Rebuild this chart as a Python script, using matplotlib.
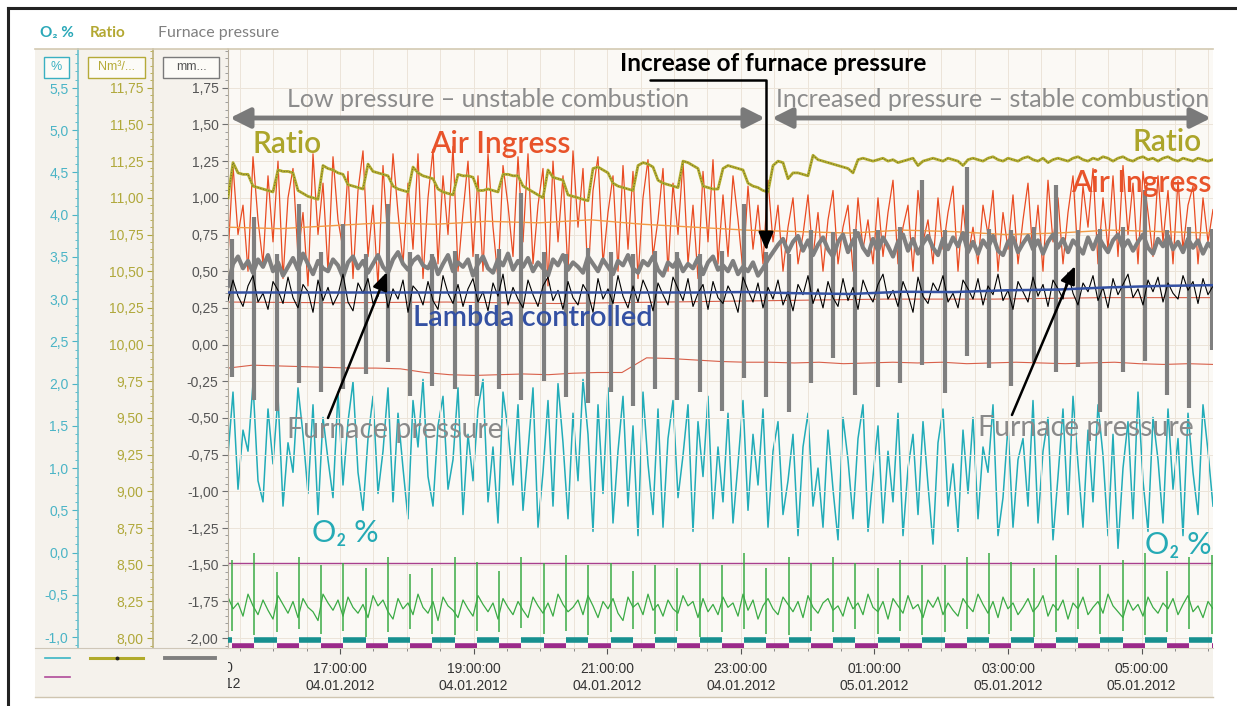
import numpy as np
import pandas as pd
import matplotlib
matplotlib.use("Agg")
import matplotlib.pyplot as plt
import matplotlib.dates as mdates
from matplotlib.ticker import FuncFormatter, MultipleLocator, FixedLocator
from matplotlib.lines import Line2D
from matplotlib.patches import Rectangle, ArrowStyle
from matplotlib.transforms import Bbox, TransformedBbox, blended_transform_factory

plt.rcParams['font.family'] = ['Liberation Sans', 'DejaVu Sans']
ANN_FONT = ['Lato', 'DejaVu Sans']

# visible time window
t_start = pd.Timestamp("2012-01-04 15:19:23")
t_end = pd.Timestamp("2012-01-05 06:04:08")

# valve switch times (every 20 min)
day1 = ["15:23", "15:43", "16:03", "16:23", "16:43", "17:03", "17:23", "17:43", "18:03",
        "18:23", "18:43", "19:03", "19:23", "19:43", "20:03", "20:23", "20:43", "21:03",
        "21:23", "21:43", "22:03", "22:23", "22:43", "23:03", "23:23", "23:43"]
day2 = ["00:03", "00:23", "00:43", "01:03", "01:23", "01:43", "02:03", "02:23", "02:43",
        "03:03", "03:23", "03:43", "04:03", "04:23", "04:43", "05:03", "05:23", "05:43", "06:03"]
switch_times = pd.to_datetime(["2012-01-04 " + s for s in day1] + ["2012-01-05 " + s for s in day2])

# O2 % (teal axis)
o2_pct = [
    1.15, 1.90, 0.75, 1.45, 1.20, 2.00, 0.85, 0.60, 1.70, 1.05,
    1.85, 0.55, 1.30, 0.95, 1.95, 1.40, 0.70, 1.75, 0.45, 1.60,
    1.10, 0.65, 1.90, 0.80, 1.55, 2.02, 0.95, 0.50, 1.35, 1.85,
    0.70, 1.20, 1.95, 0.60, 1.65, 1.00, 0.40, 1.80, 1.25, 2.05,
    0.90, 0.55, 1.50, 1.85, 0.75, 1.10, 1.95, 0.45, 1.40, 0.85,
    1.70, 2.05, 0.60, 1.25, 0.35, 1.90, 1.45, 0.80, 1.75, 0.50,
    1.20, 1.95, 0.30, 0.95, 1.80, 0.55, 2.00, 1.30, 0.40, 1.65,
    0.85, 2.05, 1.40, 0.25, 1.75, 0.70, 1.95, 0.35, 1.20, 1.85,
    0.55, 1.50, 0.20, 1.90, 1.05, 0.45, 1.70, 0.30, 1.35, 1.80,
    0.65, 1.15, 1.75, 0.25, 1.55, 0.90, 1.85, 0.40, 1.25, 0.60,
    1.65, 0.35, 1.05, 1.80, 0.50, 1.40, 0.80, 1.70, 0.30, 1.20,
    1.55, 0.45, 0.85, 1.40, 0.20, 1.25, 1.65, 0.55, 1.00, 0.30,
    1.45, 0.75, 0.15, 1.60, 1.10, 0.40, 1.35, 1.75, 0.25, 0.90,
    1.50, 0.35, 1.20, 0.60, 1.65, 0.20, 1.00, 1.40, 0.45, 1.55,
    0.80, 0.10, 1.30, 1.70, 0.55, 1.05, 0.25, 1.45, 0.70, 1.60,
    0.40, 1.25, 0.95, 1.75, 0.20, 0.65, 1.50, 0.30, 1.10, 1.35,
    0.55, 1.80, 0.35, 1.20, 1.60, 0.15, 0.90, 1.70, 0.45, 1.85,
    1.05, 0.30, 1.45, 0.60, 1.75, 1.15, 0.20, 1.40, 0.05, 1.00,
    1.55, 0.40, 1.90, 0.85, 0.25, 1.60, 1.10, 0.35, 1.70, 0.75,
    1.35, 0.20, 1.65, 0.95, 0.45, 1.75, 1.20, 0.55]

# ratio (olive axis, Nm3/...)
ratio = [
    11.00, 11.24, 11.17, 11.16, 11.16, 11.08, 11.07, 11.06, 11.05, 11.04,
    11.19, 11.18, 11.18, 11.17, 11.05, 11.03, 11.01, 11.00, 10.99, 11.22,
    11.20, 11.19, 11.17, 11.16, 11.09, 11.08, 11.07, 11.06, 11.23, 11.18,
    11.17, 11.16, 11.15, 11.08, 11.06, 11.05, 11.04, 11.21, 11.17, 11.15,
    11.14, 11.13, 11.06, 11.04, 11.03, 11.02, 11.16, 11.15, 11.15, 11.14,
    11.05, 11.05, 11.06, 11.05, 11.04, 11.16, 11.16, 11.15, 11.15, 11.08,
    11.06, 11.04, 11.02, 11.00, 11.19, 11.14, 11.13, 11.12, 11.02, 11.01,
    11.00, 10.99, 10.98, 11.20, 11.21, 11.19, 11.17, 11.10, 11.08, 11.07,
    11.06, 11.05, 11.22, 11.24, 11.23, 11.21, 11.12, 11.10, 11.09, 11.08,
    11.07, 11.25, 11.24, 11.22, 11.20, 11.08, 11.07, 11.06, 11.06, 11.20,
    11.22, 11.21, 11.20, 11.19, 11.10, 11.08, 11.07, 11.05, 11.04, 11.22,
    11.25, 11.24, 11.13, 11.17, 11.17, 11.16, 11.15, 11.29, 11.26, 11.25,
    11.24, 11.23, 11.22, 11.21, 11.20, 11.17, 11.26, 11.27, 11.26, 11.25,
    11.26, 11.27, 11.25, 11.26, 11.24, 11.25, 11.26, 11.27, 11.22, 11.25,
    11.26, 11.27, 11.26, 11.25, 11.27, 11.26, 11.25, 11.22, 11.26, 11.27,
    11.26, 11.25, 11.27, 11.28, 11.26, 11.25, 11.27, 11.26, 11.25, 11.27,
    11.28, 11.26, 11.25, 11.27, 11.24, 11.26, 11.27, 11.26, 11.25, 11.27,
    11.28, 11.26, 11.25, 11.27, 11.26, 11.28, 11.27, 11.25, 11.27, 11.28,
    11.26, 11.25, 11.27, 11.28, 11.26, 11.27, 11.25, 11.27, 11.28, 11.26,
    11.25, 11.27, 11.26, 11.25, 11.27, 11.26, 11.25, 11.26]

# furnace pressure, mm (grey axis) - level between valve switches
furnace_pressure = [
    0.40, 0.55, 0.60, 0.52, 0.57, 0.49, 0.58, 0.53, 0.61, 0.50,
    0.56, 0.47, 0.53, 0.59, 0.51, 0.62, 0.55, 0.48, 0.57, 0.52,
    0.50, 0.58, 0.54, 0.46, 0.56, 0.60, 0.52, 0.57, 0.49, 0.55,
    0.61, 0.53, 0.49, 0.58, 0.63, 0.55, 0.51, 0.57, 0.60, 0.54,
    0.52, 0.59, 0.48, 0.55, 0.61, 0.50, 0.56, 0.53, 0.58, 0.47,
    0.55, 0.60, 0.52, 0.49, 0.58, 0.54, 0.62, 0.51, 0.57, 0.53,
    0.59, 0.50, 0.56, 0.52, 0.47, 0.58, 0.54, 0.61, 0.51, 0.56,
    0.53, 0.49, 0.60, 0.55, 0.50, 0.58, 0.53, 0.48, 0.57, 0.54,
    0.61, 0.52, 0.49, 0.57, 0.54, 0.60, 0.51, 0.47, 0.56, 0.53,
    0.58, 0.50, 0.55, 0.52, 0.59, 0.48, 0.56, 0.60, 0.51, 0.54,
    0.50, 0.57, 0.48, 0.53, 0.50, 0.56, 0.47, 0.52, 0.58, 0.63,
    0.68, 0.72, 0.63, 0.70, 0.74, 0.64, 0.71, 0.61, 0.68, 0.73,
    0.65, 0.60, 0.70, 0.75, 0.63, 0.71, 0.76, 0.66, 0.61, 0.72,
    0.64, 0.73, 0.67, 0.60, 0.70, 0.75, 0.64, 0.72, 0.62, 0.69,
    0.74, 0.66, 0.61, 0.72, 0.65, 0.73, 0.67, 0.76, 0.63, 0.70,
    0.62, 0.71, 0.66, 0.74, 0.64, 0.61, 0.70, 0.73, 0.63, 0.69,
    0.74, 0.65, 0.71, 0.62, 0.70, 0.75, 0.66, 0.72, 0.63, 0.71,
    0.67, 0.62, 0.73, 0.65, 0.74, 0.68, 0.63, 0.71, 0.75, 0.66,
    0.71, 0.64, 0.70, 0.75, 0.66, 0.62, 0.72, 0.67, 0.74, 0.65,
    0.70, 0.63, 0.72, 0.66, 0.71, 0.62, 0.69, 0.65]

# furnace pressure swing at each valve switch (low / high)
pressure_switch_low = [
    -0.22, -0.38, -0.45, -0.26, -0.32, -0.30, -0.20, -0.12, -0.35, -0.28,
    -0.30, -0.35, -0.30, -0.38, -0.25, -0.36, -0.40, -0.32, -0.42, -0.30,
    -0.38, -0.32, -0.45, -0.23, -0.36, -0.46, -0.26, -0.09, -0.34, -0.29,
    -0.26, -0.14, -0.33, -0.08, -0.16, -0.28, -0.12, -0.19, -0.15, -0.46,
    -0.19, -0.11, -0.34, -0.43, -0.04]
pressure_switch_high = [
    0.72, 0.87, 0.62, 0.96, 0.63, 0.82, 0.62, 0.96, 0.63, 0.62,
    0.64, 0.62, 0.65, 1.03, 0.63, 0.62, 0.66, 0.63, 0.62, 0.64,
    0.63, 0.62, 0.64, 0.96, 0.63, 0.62, 0.78, 0.77, 0.79, 0.78,
    0.80, 1.12, 0.78, 1.21, 0.79, 0.78, 0.80, 1.09, 0.78, 0.79,
    0.80, 1.05, 0.78, 0.80, 0.79]

# air ingress (red)
air_ingress = [
    0.60, 1.22, 0.75, 0.95, 0.50, 1.28, 0.85, 0.55, 1.15, 0.70,
    1.25, 0.45, 1.00, 1.20, 0.60, 0.90, 0.40, 1.30, 0.75, 1.10,
    0.50, 1.28, 0.85, 0.65, 1.18, 0.45, 1.05, 1.32, 0.60, 0.95,
    0.40, 1.22, 0.70, 1.30, 0.90, 0.55, 1.10, 0.65, 1.30, 0.45,
    1.00, 1.33, 0.55, 1.15, 0.75, 1.35, 0.50, 0.90, 1.25, 0.60,
    1.15, 0.50, 1.30, 0.80, 0.45, 1.22, 0.95, 0.60, 1.28, 0.70,
    1.30, 0.55, 0.95, 1.20, 0.40, 1.25, 0.70, 1.15, 0.50, 1.32,
    0.80, 1.20, 0.45, 1.05, 1.28, 0.55, 0.90, 1.15, 0.50, 1.22,
    0.65, 1.18, 0.45, 1.00, 1.26, 0.60, 0.85, 1.20, 0.50, 1.10,
    0.75, 1.25, 0.55, 0.95, 0.45, 1.18, 0.70, 1.26, 0.55, 1.02,
    0.60, 1.15, 0.85, 0.50, 1.08, 0.65, 0.95, 0.55, 1.12, 0.70,
    0.95, 0.50, 0.80, 1.00, 0.55, 0.75, 1.02, 0.60, 0.90, 0.50,
    0.85, 1.05, 0.55, 0.80, 0.95, 0.50, 1.00, 0.65, 0.85, 0.55,
    1.00, 0.60, 0.90, 1.12, 0.55, 0.80, 0.95, 0.50, 1.05, 0.70,
    0.85, 0.55, 1.00, 0.65, 0.90, 1.08, 0.50, 0.95, 0.60, 0.80,
    0.55, 0.95, 0.75, 1.05, 0.50, 0.90, 0.65, 1.02, 0.55, 0.85,
    1.10, 0.60, 0.95, 0.50, 1.12, 0.70, 1.00, 0.55, 0.90, 1.15,
    0.60, 1.08, 0.80, 1.20, 0.55, 1.00, 0.65, 1.15, 0.60, 1.22,
    0.75, 1.10, 0.55, 1.18, 0.90, 0.60, 1.15, 0.70, 1.05, 0.55,
    1.12, 0.65, 0.95, 1.08, 0.55, 1.00, 0.70, 0.92]

# air ingress, averaged (light orange)
air_ingress_avg = [0.80, 0.79, 0.81, 0.83, 0.82, 0.84, 0.83, 0.85, 0.82, 0.80,
                   0.78, 0.77, 0.76, 0.78, 0.77, 0.75, 0.76, 0.78, 0.77, 0.76]

# lambda raw signal (black)
lambda_raw = [
    0.30, 0.44, 0.33, 0.26, 0.40, 0.47, 0.29, 0.35, 0.24, 0.43,
    0.37, 0.28, 0.46, 0.32, 0.25, 0.41, 0.36, 0.22, 0.44, 0.30,
    0.39, 0.27, 0.34, 0.48, 0.29, 0.23, 0.42, 0.35, 0.45, 0.28,
    0.33, 0.46, 0.25, 0.38, 0.31, 0.44, 0.22, 0.40, 0.36, 0.27,
    0.43, 0.30, 0.24, 0.47, 0.35, 0.28, 0.41, 0.26, 0.38, 0.45,
    0.29, 0.36, 0.23, 0.42, 0.33, 0.48, 0.27, 0.39, 0.31, 0.25,
    0.44, 0.34, 0.26, 0.40, 0.46, 0.30, 0.37, 0.24, 0.43, 0.32,
    0.27, 0.41, 0.35, 0.22, 0.45, 0.31, 0.38, 0.28, 0.47, 0.33,
    0.25, 0.40, 0.29, 0.44, 0.36, 0.23, 0.42, 0.34, 0.27, 0.46,
    0.38, 0.30, 0.45, 0.26, 0.35, 0.41, 0.24, 0.43, 0.32, 0.28,
    0.40, 0.33, 0.22, 0.46, 0.37, 0.29, 0.42, 0.25, 0.39, 0.31,
    0.44, 0.27, 0.36, 0.23, 0.41, 0.34, 0.47, 0.28, 0.38, 0.25,
    0.43, 0.32, 0.26, 0.45, 0.30, 0.39, 0.24, 0.44, 0.35, 0.29,
    0.41, 0.48, 0.31, 0.37, 0.26, 0.43, 0.34, 0.22, 0.46, 0.33,
    0.28, 0.42, 0.36, 0.47, 0.29, 0.35, 0.25, 0.44, 0.38, 0.31,
    0.45, 0.27, 0.40, 0.34, 0.48, 0.30, 0.37, 0.24, 0.43, 0.36,
    0.29, 0.46, 0.33, 0.41, 0.26, 0.44, 0.38, 0.31, 0.49, 0.35,
    0.27, 0.42, 0.36, 0.47, 0.30, 0.39, 0.25, 0.45, 0.34, 0.41,
    0.48, 0.32, 0.38, 0.27, 0.44, 0.36, 0.46, 0.29, 0.42, 0.35,
    0.31, 0.47, 0.37, 0.43, 0.28, 0.45, 0.34, 0.40]

# lambda controlled (blue)
lambda_ctrl = [0.355, 0.355, 0.355, 0.355, 0.355, 0.355, 0.355, 0.355, 0.355, 0.355,
               0.358, 0.350, 0.345, 0.360, 0.358, 0.370, 0.375, 0.390, 0.400, 0.405]

# thin red traces
red_upper = [0.29, 0.285, 0.29, 0.28, 0.29, 0.30, 0.31, 0.31, 0.32, 0.32]
red_lower = [-0.160, -0.140, -0.145, -0.150, -0.155, -0.160, -0.160, -0.165, -0.190, -0.205,
             -0.210, -0.205, -0.200, -0.205, -0.195, -0.190, -0.190, -0.090, -0.095, -0.105,
             -0.115, -0.120, -0.120, -0.125, -0.120, -0.130, -0.125, -0.120, -0.125, -0.120,
             -0.130, -0.125, -0.120, -0.125, -0.130, -0.125, -0.120, -0.130, -0.135, -0.130,
             -0.135]

# green trace
green_trace = [
    -1.72, -1.80, -1.76, -1.85, -1.70, -1.78, -1.84, -1.74, -1.81, -1.87,
    -1.71, -1.77, -1.83, -1.75, -1.86, -1.73, -1.79, -1.82, -1.88, -1.70,
    -1.76, -1.81, -1.74, -1.85, -1.72, -1.79, -1.83, -1.77, -1.86, -1.71,
    -1.78, -1.74, -1.82, -1.87, -1.73, -1.80, -1.76, -1.84, -1.70, -1.79,
    -1.83, -1.75, -1.88, -1.72, -1.78, -1.81, -1.86, -1.74, -1.80, -1.85,
    -1.71, -1.77, -1.82, -1.76, -1.87, -1.73, -1.79, -1.84, -1.75, -1.81,
    -1.86, -1.72, -1.78, -1.83, -1.76, -1.85, -1.70, -1.77, -1.82, -1.79,
    -1.74, -1.84, -1.71, -1.78, -1.86, -1.75, -1.80, -1.73, -1.83, -1.88,
    -1.72, -1.79, -1.76, -1.84, -1.70, -1.81, -1.77, -1.85, -1.74, -1.80,
    -1.83, -1.71, -1.78, -1.75, -1.86, -1.73, -1.82, -1.77, -1.84, -1.72,
    -1.79, -1.76, -1.85, -1.70, -1.81, -1.74, -1.87, -1.78, -1.73, -1.80,
    -1.84, -1.72, -1.77, -1.82, -1.75, -1.86, -1.71, -1.79, -1.83, -1.76,
    -1.73, -1.81, -1.78, -1.85, -1.72, -1.80, -1.76, -1.84, -1.70, -1.79,
    -1.82, -1.75, -1.87, -1.73, -1.78, -1.83, -1.71, -1.80, -1.77, -1.86,
    -1.74, -1.79, -1.72, -1.84, -1.76, -1.81, -1.85, -1.73, -1.78, -1.82,
    -1.70, -1.77, -1.83, -1.75, -1.86, -1.72, -1.80, -1.76, -1.84, -1.79,
    -1.73, -1.82, -1.78, -1.71, -1.85, -1.77, -1.81, -1.74, -1.87, -1.76,
    -1.80, -1.72, -1.84, -1.79, -1.75, -1.83, -1.70, -1.78, -1.82, -1.86,
    -1.74, -1.81, -1.77, -1.85, -1.72, -1.79, -1.83, -1.76, -1.80, -1.73,
    -1.84, -1.77, -1.71, -1.82, -1.78, -1.86, -1.75, -1.80]
green_switch_peak = [
    -1.47, -1.42, -1.55, -1.45, -1.50, -1.49, -1.52, -1.45, -1.56, -1.52,
    -1.45, -1.48, -1.54, -1.45, -1.49, -1.43, -1.50, -1.49, -1.54, -1.50,
    -1.52, -1.49, -1.50, -1.42, -1.52, -1.45, -1.49, -1.45, -1.49, -1.52,
    -1.47, -1.50, -1.50, -1.45, -1.42, -1.48, -1.52, -1.43, -1.52, -1.50,
    -1.47, -1.42, -1.54, -1.45, -1.43]
green_switch_dip = [
    -1.95, -1.98, -1.96, -1.94, -1.97, -1.95, -1.99, -1.96, -1.94, -1.97,
    -1.98, -1.95, -1.96, -1.93, -1.97, -1.95, -1.98, -1.96, -1.94, -1.97,
    -1.95, -1.99, -1.96, -1.94, -1.97, -1.98, -1.95, -1.96, -1.94, -1.97,
    -1.95, -1.98, -1.96, -1.94, -1.97, -1.95, -1.99, -1.96, -1.94, -1.97,
    -1.95, -1.98, -1.96, -1.94, -1.97]
purple_level = -1.49
valve_a_level = -2.012   # teal bars
valve_b_level = -2.052   # purple bars

pressure_ticks = np.arange(-2.0, 1.76, 0.25)
ratio_ticks = np.arange(8.0, 11.76, 0.25)
o2_ticks = np.arange(-1.0, 5.51, 0.5)

# colours
TEAL = '#22acb8'
OLIVE = '#b1ab2c'
GREY = '#7f7f7f'
RED = '#e94b22'
BLUE = '#3451a3'
GREEN = '#3bab45'
PURPLE = '#a8408e'

W, H = 1237, 706
fig = plt.figure(figsize=(W / 100, H / 100), dpi=100)


def fx(px):
    return px / W


def fy(py):
    return 1 - py / H


rect = [fx(228), fy(648), fx(1213) - fx(228), fy(49) - fy(648)]

# backgrounds
fig.add_artist(Rectangle((fx(35), fy(697)), fx(1213) - fx(35), fy(49) - fy(697),
                         transform=fig.transFigure, facecolor='#f5f2ec', edgecolor='none', zorder=-2))
fig.add_artist(Rectangle((rect[0], rect[1]), rect[2], rect[3],
                         transform=fig.transFigure, facecolor='#fbf9f5', edgecolor='none', zorder=-1))

ax = fig.add_axes(rect, label='main', zorder=2)
ax_o2p = fig.add_axes(rect, label='o2', zorder=1, sharex=ax)
ax_rp = fig.add_axes(rect, label='ratio', zorder=3, sharex=ax)
for a in (ax, ax_o2p, ax_rp):
    a.set_facecolor('none')
ax_o2p.set_axis_off()
ax_rp.set_axis_off()

ax.set_xlim(t_start, t_end)
ax.set_ylim(-2.067, 2.014)
ax_o2p.set_ylim(-1.130, 5.962)
ax_rp.set_ylim(7.933, 12.014)

# O2
ax_o2p.plot(pd.date_range(t_start, t_end, periods=len(o2_pct)), o2_pct, color=TEAL, lw=1.1)

# main axis traces
ax.plot(pd.date_range(t_start, t_end, periods=len(air_ingress)), air_ingress, color=RED, lw=0.9, zorder=2)
ax.plot(pd.date_range(t_start, t_end, periods=len(air_ingress_avg)), air_ingress_avg,
        color='#f29a45', lw=1.0, zorder=2.2)
ax.plot(pd.date_range(t_start, t_end, periods=len(red_upper)), red_upper, color='#d8604a', lw=0.8, zorder=2.4)
ax.plot(pd.date_range(t_start, t_end, periods=len(red_lower)), red_lower, color='#d8604a', lw=0.8, zorder=2.4)

t_fp = pd.date_range(t_start, t_end, periods=len(furnace_pressure))
ax.plot(t_fp, furnace_pressure, color=GREY, lw=3, zorder=3)
ax.vlines(switch_times, pressure_switch_low, pressure_switch_high, color=GREY, lw=3, zorder=3)

ax.plot(pd.date_range(t_start, t_end, periods=len(lambda_raw)), lambda_raw, color='black', lw=0.8, zorder=4)
ax.plot(pd.date_range(t_start, t_end, periods=len(lambda_ctrl)), lambda_ctrl, color=BLUE, lw=1.8, zorder=5)

ax.axhline(purple_level, color=PURPLE, lw=1.0, zorder=2)
ax.plot(pd.date_range(t_start, t_end, periods=len(green_trace)), green_trace, color=GREEN, lw=0.9, zorder=2.5)
ax.vlines(switch_times, green_switch_dip, green_switch_peak, color=GREEN, lw=1.1, zorder=2.5)

# valve state bars
sw = list(switch_times)
b_starts = pd.DatetimeIndex(sw[0::2])
b_ends = pd.DatetimeIndex(sw[1::2] + [t_end])
a_starts = pd.DatetimeIndex([t_start] + sw[1::2])
a_ends = pd.DatetimeIndex(sw[0::2])
ax.hlines(np.full(len(a_starts), valve_a_level), a_starts, a_ends, color='#17908f', lw=4, zorder=4)
ax.hlines(np.full(len(b_starts), valve_b_level), b_starts, b_ends, color='#9b2a8a', lw=4, zorder=4)

# ratio
t_r = pd.date_range(t_start, t_end, periods=len(ratio))
ax_rp.plot(t_r, ratio, color=OLIVE, lw=2.0, zorder=2)
ax_rp.plot(t_r, ratio, color='#333333', lw=0.5, ls=(0, (1, 3)), zorder=3)

# main axis styling
comma2 = FuncFormatter(lambda v, pos: f"{v:.2f}".replace('.', ','))
comma1 = FuncFormatter(lambda v, pos: f"{v:.1f}".replace('.', ','))

ax.yaxis.set_major_locator(FixedLocator(pressure_ticks))
ax.yaxis.set_major_formatter(comma2)
ax.yaxis.set_minor_locator(MultipleLocator(0.05))
ax.tick_params(axis='y', which='major', length=4.3, width=0.8, color='#707070',
               labelcolor='#555555', labelsize=10, pad=2.5)
ax.tick_params(axis='y', which='minor', length=2.2, width=0.6, color='#909090')

ax.xaxis.set_major_locator(mdates.HourLocator(byhour=range(1, 24, 2)))
ax.xaxis.set_minor_locator(mdates.MinuteLocator(byminute=[0, 30]))
ax.xaxis.set_major_formatter(mdates.DateFormatter('%H:%M:%S\n%d.%m.%Y'))
ax.tick_params(axis='x', which='major', length=4.3, width=0.8, color='#555555',
               labelcolor='#333333', labelsize=10, pad=6)
ax.tick_params(axis='x', which='minor', length=2.2, width=0.6, color='#777777')

ax.spines['right'].set_visible(False)
ax.spines['top'].set_color('#d3c9b2')
ax.spines['top'].set_linewidth(1.2)
ax.spines['left'].set_color('#b4ac9c')
ax.spines['bottom'].set_color('#d8d0c2')

ax.set_axisbelow(True)
ax.grid(True, which='major', axis='y', color='#ece4d9', lw=0.7)
ax.grid(True, which='both', axis='x', color='#ece4d9', lw=0.7)

# clipped 15:00 label at the left edge
lab15 = fig.text(mdates.date2num(pd.Timestamp("2012-01-04 15:00")), fy(661), "15:00:00\n04.01.2012",
                 transform=blended_transform_factory(ax.transData, fig.transFigure),
                 ha='center', va='top', fontsize=10, color='#333333', linespacing=1.2)
lab15.set_clip_on(True)
lab15.set_clip_box(TransformedBbox(Bbox.from_extents(fx(228), 0, 1, 1), fig.transFigure))


# separate scale axes for O2 and ratio
def scale_axis(x_px, lo, hi, ticks, minor, fmt, color, spine_color):
    a = fig.add_axes([fx(x_px), rect[1], 1e-4, rect[3]], label=f'scale{x_px}')
    a.set_facecolor('none')
    for s in ('top', 'right', 'bottom'):
        a.spines[s].set_visible(False)
    a.spines['left'].set_color(spine_color)
    a.spines['left'].set_linewidth(1.2)
    a.set_xticks([])
    a.set_ylim(lo, hi)
    a.yaxis.set_major_locator(FixedLocator(ticks))
    a.yaxis.set_minor_locator(MultipleLocator(minor))
    a.yaxis.set_major_formatter(fmt)
    a.tick_params(axis='y', which='major', length=4.3, width=0.8, color=color,
                  labelcolor=color, labelsize=10, pad=2.5)
    a.tick_params(axis='y', which='minor', length=2.2, width=0.6, color=color)
    return a


scale_axis(78, -1.130, 5.962, o2_ticks, 0.1, comma1, '#4ab4c6', '#6cc0cc')
scale_axis(153, 7.933, 12.014, ratio_ticks, 0.05, comma2, '#b0a83a', '#bdb27a')

# unit boxes
for x0, x1, txt, col, tcol in [(44, 69, "%", '#3ab0c2', '#3ab0c2'),
                               (88, 145, "Nm³/...", '#b5aa38', '#b5aa38'),
                               (163, 219, "mm...", '#7a7a7a', '#555555')]:
    fig.add_artist(Rectangle((fx(x0), fy(78)), fx(x1) - fx(x0), fy(57) - fy(78), transform=fig.transFigure,
                             facecolor='#fcfbf7', edgecolor=col, lw=1.0, zorder=5))
    fig.text(fx((x0 + x1) / 2), fy(67.5), txt, ha='center', va='center', fontsize=9, color=tcol, zorder=6)

# header
fig.text(fx(40), fy(33), "O₂ %", color='#2aa8b8', fontsize=11, fontweight='bold', family=ANN_FONT, va='center')
fig.text(fx(90), fy(33), "Ratio", color='#b3a832', fontsize=11, fontweight='bold', family=ANN_FONT, va='center')
fig.text(fx(158), fy(33), "Furnace pressure", color='#808080', fontsize=11.5, family=ANN_FONT, va='center')

# panel lines and outer frame
fig.add_artist(Line2D([fx(35), fx(228)], [fy(49), fy(49)], color='#d3c9b2', lw=1.2))
fig.add_artist(Line2D([fx(35), fx(228)], [fy(648), fy(648)], color='#cfc7b8', lw=0.8))
fig.add_artist(Line2D([fx(35), fx(1213)], [fy(697), fy(697)], color='#cfc5b0', lw=1.0))
fig.add_artist(Line2D([fx(8), 1], [fy(8), fy(8)], color='#222222', lw=2.2))
fig.add_artist(Line2D([fx(8), fx(8)], [0, fy(8)], color='#222222', lw=2.2))

# legend swatches
fig.add_artist(Line2D([fx(45), fx(70)], [fy(658), fy(658)], color='#3ab5c5', lw=1.2))
fig.add_artist(Line2D([fx(90), fx(143)], [fy(658), fy(658)], color=OLIVE, lw=2.2))
fig.add_artist(Line2D([fx(116.5)], [fy(658)], color='#222222', marker='o', ms=1.8, lw=0))
fig.add_artist(Line2D([fx(165), fx(215)], [fy(658), fy(658)], color=GREY, lw=2.8))
fig.add_artist(Line2D([fx(45), fx(70)], [fy(677), fy(677)], color='#b04a9a', lw=1.2))

# annotations
tr = ax_rp.transAxes


def note(x, y, s, color, size, weight='normal', ha='center', clip=False):
    ax_rp.text(x, y, s, transform=tr, ha=ha, va='center', color=color, clip_on=clip,
               fontsize=size, fontweight=weight, family=ANN_FONT, zorder=10)


note(0.5533, 0.9766, "Increase of furnace pressure", 'black', 17.5, 'bold')
note(0.2640, 0.9165, "Low pressure – unstable combustion", '#8c8c8c', 18)
note(0.7760, 0.9165, "Increased pressure – stable combustion", '#8c8c8c', 18)
note(0.0599, 0.8414, "Ratio", '#aca52a', 21.5, 'semibold')
note(0.2761, 0.8414, "Air Ingress", '#e8532a', 21.5, 'semibold')
note(0.9533, 0.8447, "Ratio", '#aca52a', 21.5, 'semibold')
note(0.9270, 0.7763, "Air Ingress", '#e8532a', 21.5, 'semibold')
note(0.3096, 0.5508, "Lambda controlled", BLUE, 21, 'semibold')
note(0.1695, 0.3639, "Furnace pressure", '#8a8a8a', 20.5)
note(0.8711, 0.3673, "Furnace pressure", '#8a8a8a', 20.5)
note(0.1188, 0.1920, "O₂ %", '#25aab5', 22)
note(0.9310, 0.1720, "O₂ %", '#25aab5', 22, ha='left', clip=True)

dbl = ArrowStyle('<|-|>', head_length=0.6, head_width=0.3)
for x0, x1 in [(0.002, 0.5452), (0.5523, 0.998)]:
    ax_rp.annotate('', xy=(x0, 0.8848), xytext=(x1, 0.8848), xycoords='axes fraction',
                   arrowprops=dict(arrowstyle=dbl, color='#7a7a7a', lw=3.5, mutation_scale=20,
                                   shrinkA=0, shrinkB=0))

one = ArrowStyle('-|>', head_length=0.6, head_width=0.25)
ax_rp.annotate('', xy=(0.5462, 0.6644), xytext=(0.4284, 0.9482), xycoords='axes fraction',
               arrowprops=dict(arrowstyle=one, color='black', lw=1.8, mutation_scale=18,
                               connectionstyle='angle,angleA=0,angleB=90,rad=0',
                               shrinkA=0, shrinkB=0))
for tail, head in [((0.1015, 0.384), (0.1614, 0.6277)), ((0.7959, 0.389), (0.8599, 0.6377))]:
    ax_rp.annotate('', xy=head, xytext=tail, xycoords='axes fraction',
                   arrowprops=dict(arrowstyle=one, color='black', lw=1.8, mutation_scale=18,
                                   shrinkA=0, shrinkB=0))

fig.savefig('out.png', dpi=100)
